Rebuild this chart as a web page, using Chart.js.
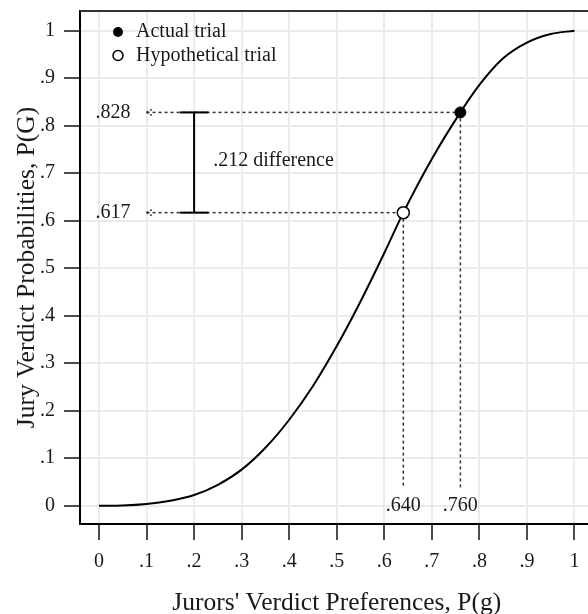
<!DOCTYPE html>
<html>
<head>
<meta charset="utf-8">
<script src="https://cdn.jsdelivr.net/npm/chart.js@4.4.1/dist/chart.umd.min.js"></script>
<style>
html, body { margin: 0; padding: 0; background: #fff; overflow: hidden; }
#wrap { width: 588px; height: 614px; overflow: hidden; }
canvas { display: block; }
</style>
</head>
<body>
<div id="wrap"><canvas id="chart" width="601" height="614"></canvas></div>
<script>
// curve
var jurorPref = [0, .05, .1, .15, .2, .25, .3, .35, .4, .45, .5, .55, .6, .64, .7, .76, .8, .85, .9, .95, 1];
var juryProb  = [0, .0005, .0035, .0105, .0225, .044, .076, .122, .181, .252, .336, .43, .532, .617, .73, .828, .886, .942, .975, .993, 1];

var actualTrial = [0.760, 0.828];
var hypoTrial = [0.640, 0.617];
var diffLabel = '.212 difference';

var xTicks = [0, .1, .2, .3, .4, .5, .6, .7, .8, .9, 1];
var xTickLabels = ['0', '.1', '.2', '.3', '.4', '.5', '.6', '.7', '.8', '.9', '1'];
var yTicks = [0, .1, .2, .3, .4, .5, .6, .7, .8, .9, 1];
var yTickLabels = ['0', '.1', '.2', '.3', '.4', '.5', '.6', '.7', '.8', '.9', '1'];

var serif = 'Liberation Serif';
var ink = '#1a1a1a';

var curvePoints = jurorPref.map(function (v, i) { return { x: v, y: juryProb[i] }; });

function seg(c, x1, y1, x2, y2) {
	c.beginPath();
	c.moveTo(x1, y1);
	c.lineTo(x2, y2);
	c.stroke();
}

function fmt(v) {
	return v.toFixed(3).replace('0.', '.');
}

var notes = {
	id: 'notes',
	beforeDatasetsDraw: function (chart) {
		var c = chart.ctx, xs = chart.scales.x, ys = chart.scales.y, a = chart.chartArea;
		c.save();
		// top frame line
		c.strokeStyle = '#333';
		c.lineWidth = 2;
		seg(c, a.left, a.top, a.right, a.top);

		c.strokeStyle = '#333';
		c.lineWidth = 1.5;
		c.setLineDash([3, 3]);
		c.font = '20px "' + serif + '"';
		c.fillStyle = ink;
		[actualTrial, hypoTrial].forEach(function (p) {
			var px = xs.getPixelForValue(p[0]);
			var py = ys.getPixelForValue(p[1]);
			var lx = xs.getPixelForValue(0.1);
			var by = ys.getPixelForValue(0.037);
			seg(c, lx, py, px, py);
			seg(c, px, py, px, by);
			// little arrow head
			c.setLineDash([2, 2]);
			seg(c, lx, py, lx + 7, py - 4);
			seg(c, lx, py, lx + 7, py + 4);
			c.setLineDash([3, 3]);
			c.textAlign = 'right';
			c.textBaseline = 'middle';
			c.fillText(fmt(p[1]), lx - 16, py);
			c.textAlign = 'center';
			c.fillText(fmt(p[0]), px, ys.getPixelForValue(0));
		});

		// difference bar
		c.setLineDash([]);
		c.strokeStyle = '#000';
		c.lineWidth = 2;
		var bx = xs.getPixelForValue(0.2);
		var t = ys.getPixelForValue(actualTrial[1]), b = ys.getPixelForValue(hypoTrial[1]);
		seg(c, bx, t, bx, b);
		seg(c, xs.getPixelForValue(0.17), t, xs.getPixelForValue(0.23), t);
		seg(c, xs.getPixelForValue(0.17), b, xs.getPixelForValue(0.23), b);
		c.textAlign = 'left';
		c.textBaseline = 'middle';
		c.fillText(diffLabel, xs.getPixelForValue(0.24), ys.getPixelForValue(0.727));
		c.restore();
	},
	afterDraw: function (chart) {
		var c = chart.ctx, a = chart.chartArea;
		c.save();
		c.lineWidth = 1.5;
		c.strokeStyle = '#000';
		c.beginPath();
		c.arc(a.left + 38, a.top + 21, 5, 0, Math.PI * 2);
		c.fillStyle = '#000';
		c.fill();
		c.beginPath();
		c.arc(a.left + 38, a.top + 44.5, 5, 0, Math.PI * 2);
		c.fillStyle = '#fff';
		c.fill();
		c.stroke();
		c.font = '20px "' + serif + '"';
		c.fillStyle = ink;
		c.textAlign = 'left';
		c.textBaseline = 'middle';
		c.fillText('Actual trial', a.left + 56, a.top + 21);
		c.fillText('Hypothetical trial', a.left + 56, a.top + 44.5);
		c.restore();
	}
};

new Chart(document.getElementById('chart'), {
	type: 'line',
	data: {
		datasets: [{
			data: [{ x: actualTrial[0], y: actualTrial[1] }],
			pointRadius: 5.5,
			backgroundColor: '#000',
			borderColor: '#000',
			borderWidth: 1,
			showLine: false
		}, {
			data: [{ x: hypoTrial[0], y: hypoTrial[1] }],
			pointRadius: 6,
			backgroundColor: '#fff',
			borderColor: '#000',
			borderWidth: 1.5,
			showLine: false
		}, {
			data: curvePoints,
			borderColor: '#000',
			borderWidth: 2,
			pointRadius: 0,
			cubicInterpolationMode: 'monotone',
			fill: false
		}]
	},
	options: {
		responsive: false,
		animation: false,
		devicePixelRatio: 1,
		layout: { padding: { top: 11, left: 0, right: 0, bottom: 0 } },
		plugins: { legend: { display: false }, tooltip: { enabled: false } },
		scales: {
			x: {
				type: 'linear',
				min: -0.04,
				max: 1.04,
				afterBuildTicks: function (s) { s.ticks = xTicks.map(function (v) { return { value: v }; }); },
				afterFit: function (s) { s.height = 90; },
				ticks: {
					autoSkip: false,
					maxRotation: 0,
					padding: 10,
					color: ink,
					font: { family: serif, size: 20 },
					callback: function (v, i) { return xTickLabels[i]; }
				},
				grid: { color: '#ebebeb', lineWidth: 2, tickColor: '#111', tickWidth: 1.5, tickLength: 16 },
				border: { color: '#000', width: 2 },
				title: {
					display: true,
					text: "Jurors' Verdict Preferences, P(g)",
					color: ink,
					font: { family: serif, size: 25.5, lineHeight: 0.85 },
					padding: { top: 0, bottom: 0 }
				}
			},
			y: {
				type: 'linear',
				min: -0.0385,
				max: 1.0415,
				afterBuildTicks: function (s) { s.ticks = yTicks.map(function (v) { return { value: v }; }); },
				afterFit: function (s) { s.width = 80; s.paddingTop = 0; s.paddingBottom = 0; },
				ticks: {
					autoSkip: false,
					padding: 9,
					color: ink,
					font: { family: serif, size: 20 },
					callback: function (v, i) { return yTickLabels[i]; }
				},
				grid: { color: '#ebebeb', lineWidth: 2, tickColor: '#111', tickWidth: 1.5, tickLength: 16 },
				border: { color: '#000', width: 2 },
				title: {
					display: true,
					text: 'Jury Verdict Probabilities, P(G)',
					color: ink,
					font: { family: serif, size: 25.5, lineHeight: 0.85 },
					padding: { top: 16, bottom: 0 }
				}
			}
		}
	},
	plugins: [notes]
});
</script>
</body>
</html>
